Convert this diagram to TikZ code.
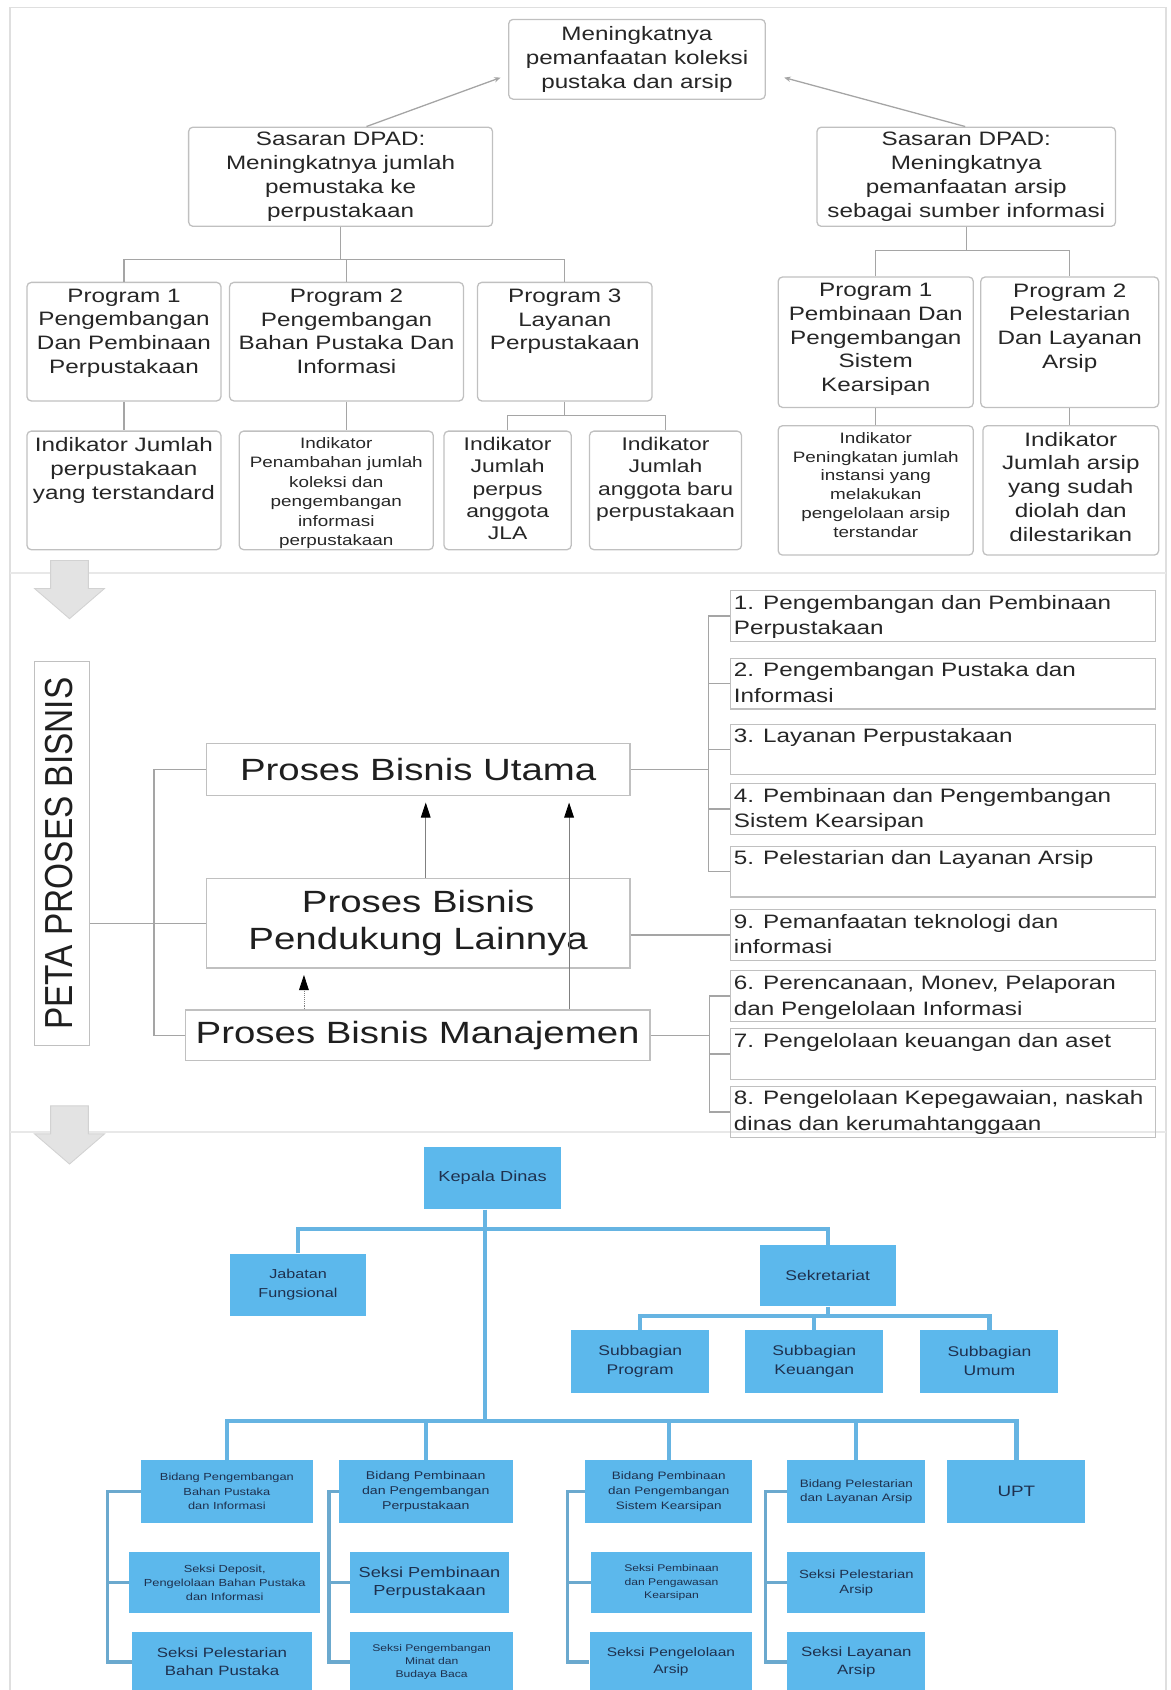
\documentclass[tikz,border=0pt]{standalone}
\usepackage{fontspec}
\setmainfont[FakeStretch=1.25]{Liberation Sans}
\newfontfamily\petafont{Liberation Sans}
\usetikzlibrary{positioning,calc,arrows.meta}

\definecolor{boxgray}{RGB}{192,192,192}
\definecolor{linkgray}{RGB}{165,165,165}
\definecolor{orgfill}{RGB}{92,184,236}
\definecolor{orgline}{RGB}{102,180,226}
\definecolor{orgtext}{RGB}{30,48,78}

\begin{document}
\begin{tikzpicture}[x=1pt, y=-1pt,
      goalbox/.style 2 args = {draw=boxgray, line width=1.2pt, rounded corners=4pt,
         align=center, text=black!85, inner sep=2pt,
         minimum width=#1pt, minimum height=#2pt,
         font=\fontsize{18}{22}\selectfont},
      progbox/.style 2 args = {draw=boxgray, line width=1.2pt, rounded corners=4pt,
         inner sep=0pt, text=black!85, font=\fontsize{18}{22}\selectfont,
         execute at begin node={\begin{minipage}[c][#2pt][t]{#1pt}\centering\vspace*{6pt}},
         execute at end node={\end{minipage}}},
      listbox/.style 2 args = {draw=boxgray, line width=1.2pt, inner xsep=3pt, inner ysep=0pt,
         text=black!85, font=\fontsize{18}{24}\selectfont,
         execute at begin node={\begin{minipage}[c][#2pt][t]{#1pt}\raggedright\vspace*{4pt}},
         execute at end node={\end{minipage}}},
      procbox/.style 2 args = {draw=boxgray, line width=1.2pt, inner sep=2pt, align=center,
         text=black!88, minimum width=#1pt, minimum height=#2pt,
         font=\fontsize{28.5}{35}\selectfont},
      orgbox/.style 2 args = {fill=orgfill, text=orgtext, align=center, inner sep=1pt,
         minimum width=#1pt, minimum height=#2pt},
      link/.style = {draw=linkgray, line width=1.2pt},
      goalarrow/.style = {link, -{Stealth[length=6pt,width=5pt]}},
      uparrow/.style = {draw=gray, line width=0.8pt,
         -{Triangle[length=14pt,width=9pt,color=black]}, shorten >=6pt},
      orglink/.style = {draw=orgline, line width=4pt},
      orgside/.style = {draw=orgline!80!gray, line width=3pt},
      bigarrow/.style = {fill=gray!22, draw=gray!35, line width=0.8pt},
      sepline/.style = {draw=gray!18, line width=2pt}
]
      \useasboundingbox (0,0) rectangle (1086,1568);
      \clip (0,0) rectangle (1086,1568);

      % frame and section lines
      \draw[gray!25, line width=1.5pt] (9,7) rectangle (1082,1590);
      \draw[sepline] (9,532) -- (1082,532);
      \draw[sepline] (9,1050) -- (1082,1050);
      \foreach \t in {520,1026}
         \draw[bigarrow] (47,\t) -- (82,\t) -- (82,\t+26) -- (97,\t+26) -- (64.5,\t+54)
            -- (32,\t+26) -- (47,\t+26) -- cycle;

      % goal and targets
      \node[goalbox={238}{74}] (goal) at (591,55) {Meningkatnya\\pemanfaatan koleksi\\pustaka dan arsip};
      \node[goalbox={282}{92}] (sasL) at (316,164) {Sasaran DPAD:\\Meningkatnya jumlah\\pemustaka ke\\perpustakaan};
      \node[goalbox={277}{92}] (sasR) at (896.5,164) {Sasaran DPAD:\\Meningkatnya\\pemanfaatan arsip\\sebagai sumber informasi};

      \draw[goalarrow] ($(sasL.north)+(24,0)$) -- ($(goal.west)+(-7,17)$);
      \draw[goalarrow] ($(sasR.north)+(-1,0)$) -- ($(goal.east)+(17,17)$);

      % programs
      \node[progbox={180}{110}] (lp1) at (115,317) {Program 1\\Pengembangan\\Dan Pembinaan\\Perpustakaan};
      \node[progbox={217}{110}] (lp2) at (321.5,317) {Program 2\\Pengembangan\\Bahan Pustaka Dan\\Informasi};
      \node[progbox={162}{110}] (lp3) at (524,317) {Program 3\\Layanan\\Perpustakaan};
      \node[progbox={181}{121}] (rp1) at (812.5,317.5) {Program 1\\Pembinaan Dan\\Pengembangan\\Sistem\\Kearsipan};
      \node[progbox={165}{121}] (rp2) at (992.5,317.5) {Program 2\\Pelestarian\\Dan Layanan\\Arsip};

      \draw[link] (sasL.south) -- ++(0,30) coordinate (lbus);
      \draw[link] (lp1.north) |- (lbus) -| (lp3.north);
      \draw[link] (lp2.north) -- (lp2.north |- lbus);
      \draw[link] (sasR.south) -- ++(0,22) coordinate (rbus);
      \draw[link] (rp1.north) |- (rbus) -| (rp2.north);

      % indicators
      \node[progbox={180}{110}] (li1) at (115,455) {Indikator Jumlah\\perpustakaan\\yang terstandard};
      \node[progbox={180}{110}, font=\fontsize{14}{18}\selectfont] (li2) at (312,455)
         {Indikator\\Penambahan jumlah\\koleksi dan\\pengembangan\\informasi\\perpustakaan};
      \node[progbox={118}{110}, font=\fontsize{17}{20.5}\selectfont] (li3a) at (471,455)
         {Indikator\\Jumlah\\perpus\\anggota\\JLA};
      \node[progbox={141}{110}, font=\fontsize{17}{20.5}\selectfont] (li3b) at (617.5,455)
         {Indikator\\Jumlah\\anggota baru\\perpustakaan};
      \node[progbox={181}{120}, font=\fontsize{14}{17.5}\selectfont] (ri1) at (812.5,455)
         {Indikator\\Peningkatan jumlah\\instansi yang\\melakukan\\pengelolaan arsip\\terstandar};
      \node[progbox={163}{120}] (ri2) at (993.5,455) {Indikator\\Jumlah arsip\\yang sudah\\diolah dan\\dilestarikan};

      \foreach \a/\b in {lp1/li1, lp2/li2, rp1/ri1, rp2/ri2}
         \draw[link] (\a.south) -- (\a.south |- \b.north);
      \draw[link] (lp3.south) -- ++(0,13) coordinate (ibus);
      \draw[link] (li3a.north) |- (ibus) -| (li3b.north);

      % business processes
      \node[procbox={356}{51}, rotate=90, text depth=5pt, font=\petafont\fontsize{31}{31}\selectfont] (peta)
         at (57.5,792) {\scalebox{1}[1.17]{PETA PROSES BISNIS}};
      \node[procbox={393}{48}] (utama) at (388,714) {Proses Bisnis Utama};
      \node[procbox={393}{83}] (pendukung) at (388,856.5) {Proses Bisnis\\Pendukung Lainnya};
      \node[procbox={431}{47}] (manajemen) at (387.5,960.5) {Proses Bisnis Manajemen};

      \draw[link] (utama.west) -- ++(-48,0) |- (manajemen.west);
      \draw[link] (peta.south |- pendukung.west) -- (pendukung.west);

      \draw[uparrow] ($(pendukung.north)+(7,0)$) -- ($(utama.south)+(7,0)$);
      \draw[uparrow] ($(manajemen.north)+(140.5,0)$) -- ($(utama.south)+(140,0)$);
      \draw[uparrow, densely dotted] ($(manajemen.north)+(-105.5,0)$) -- ($(pendukung.south)+(-106,0)$);

      % process list
      \node[listbox={388}{47}] (l1) at (875,571.5) {1. Pengembangan dan Pembinaan\\Perpustakaan};
      \node[listbox={388}{47}, below=14.5pt of l1] (l2) {2. Pengembangan Pustaka dan\\Informasi};
      \node[listbox={388}{47}, below=13pt of l2] (l3) {3. Layanan Perpustakaan};
      \node[listbox={388}{47}, below=7pt of l3] (l4) {4. Pembinaan dan Pengembangan\\Sistem Kearsipan};
      \node[listbox={388}{47}, below=10pt of l4] (l5) {5. Pelestarian dan Layanan Arsip};
      \node[listbox={388}{47}, below=10.5pt of l5] (l9) {9. Pemanfaatan teknologi dan\\informasi};
      \node[listbox={388}{47}, below=8.5pt of l9] (l6) {6. Perencanaan, Monev, Pelaporan\\dan Pengelolaan Informasi};
      \node[listbox={388}{47}, below=5.5pt of l6] (l7) {7. Pengelolaan keuangan dan aset};
      \node[listbox={388}{47}, below=5.5pt of l7] (l8) {8. Pengelolaan Kepegawaian, naskah\\dinas dan kerumahtanggaan};

      \coordinate (ub) at ($(utama.east)+(72,0)$);
      \draw[link] (utama.east) -- (ub);
      \draw[link] (l1.west) -| (ub) |- (l5.west);
      \foreach \i in {2,3,4}
         \draw[link] (l\i.west) -- (l\i.west -| ub);
      \draw[link] (pendukung.east |- l9.west) -- (l9.west);
      \coordinate (mb) at ($(manajemen.east)+(55,0)$);
      \draw[link] (manajemen.east) -- (mb);
      \draw[link] (l6.west) -| (mb) |- (l8.west);
      \draw[link] (l7.west) -- (l7.west -| mb);

      % organisation chart
      \node[orgbox={127}{58}, font=\fontsize{13.5}{16}\selectfont] (kd) at (457,1093) {Kepala Dinas};
      \node[orgbox={127}{58}, font=\fontsize{12}{18}\selectfont] (jf) at (276.5,1192) {Jabatan\\Fungsional};
      \node[orgbox={126}{57}, font=\fontsize{13}{16}\selectfont] (sek) at (768,1183.5) {Sekretariat};
      \node[orgbox={128}{58}, font=\fontsize{13}{18}\selectfont] (sp) at (594,1263) {Subbagian\\Program};
      \node[orgbox={128}{58}, font=\fontsize{13}{18}\selectfont] (sk) at (755.5,1263) {Subbagian\\Keuangan};
      \node[orgbox={128}{58}, font=\fontsize{13}{18}\selectfont] (su) at (918,1263) {Subbagian\\Umum};

      \node[orgbox={159}{58}, font=\fontsize{9.5}{13.5}\selectfont] (b1) at (210.5,1384)
         {Bidang Pengembangan\\Bahan Pustaka\\dan Informasi};
      \node[orgbox={161}{58}, font=\fontsize{10.5}{14}\selectfont] (b2) at (395,1384)
         {Bidang Pembinaan\\dan Pengembangan\\Perpustakaan};
      \node[orgbox={155}{58}, font=\fontsize{10}{14}\selectfont] (b3) at (620.5,1384)
         {Bidang Pembinaan\\dan Pengembangan\\Sistem Kearsipan};
      \node[orgbox={128}{58}, font=\fontsize{10}{13}\selectfont] (b4) at (794.5,1384)
         {Bidang Pelestarian\\dan Layanan Arsip};
      \node[orgbox={128}{58}, font=\fontsize{14}{16}\selectfont] (upt) at (943,1384) {UPT};

      \node[orgbox={177}{57}, font=\fontsize{9.5}{13}\selectfont] (s11) at (208.5,1468.5)
         {Seksi Deposit,\\Pengelolaan Bahan Pustaka\\dan Informasi};
      \node[orgbox={167}{56}, font=\fontsize{12.5}{17}\selectfont] (s12) at (206,1542)
         {Seksi Pelestarian\\Bahan Pustaka};
      \node[orgbox={147}{57}, font=\fontsize{13.5}{17}\selectfont] (s21) at (398.5,1468.5)
         {Seksi Pembinaan\\Perpustakaan};
      \node[orgbox={151}{56}, font=\fontsize{9}{12.5}\selectfont] (s22) at (400.5,1542)
         {Seksi Pengembangan\\Minat dan\\Budaya Baca};
      \node[orgbox={149}{57}, font=\fontsize{9}{12.5}\selectfont] (s31) at (623,1468.5)
         {Seksi Pembinaan\\dan Pengawasan\\Kearsipan};
      \node[orgbox={151}{56}, font=\fontsize{11.5}{16}\selectfont] (s32) at (622.5,1542)
         {Seksi Pengelolaan\\Arsip};
      \node[orgbox={128}{57}, font=\fontsize{11}{14}\selectfont] (s41) at (794.5,1468.5)
         {Seksi Pelestarian\\Arsip};
      \node[orgbox={128}{56}, font=\fontsize{12.5}{16}\selectfont] (s42) at (794.5,1542)
         {Seksi Layanan\\Arsip};

      \coordinate (spine) at ($(kd.south)+(-7,0)$);
      \draw[orglink] (spine) -- ++(0,196) coordinate (hub);
      \coordinate (hub1) at ($(spine)+(0,18)$);
      \draw[orglink] (jf.north) |- (hub1) -| (sek.north);
      \draw[orglink] (sek.south) -- ++(0,9) coordinate (hub2);
      \draw[orglink] (sp.north) |- (hub2) -| (su.north);
      \draw[orglink] (sk.north) -- (sk.north |- hub2);
      \draw[orglink] (b1.north) |- (hub) -| (upt.north);
      \foreach \n in {b2,b3,b4}
         \draw[orglink] (\n.north) -- (\n.north |- hub);

      \foreach \b/\s/\t/\dx in {b1/s11/s12/31, b2/s21/s22/9, b3/s31/s32/16, b4/s41/s42/20} {
         \draw[orgside] (\b.west) -- ++(-\dx,0) coordinate (br) |- (\t.west);
         \draw[orgside] (\s.west) -- (\s.west -| br);
      }
\end{tikzpicture}
\end{document}
